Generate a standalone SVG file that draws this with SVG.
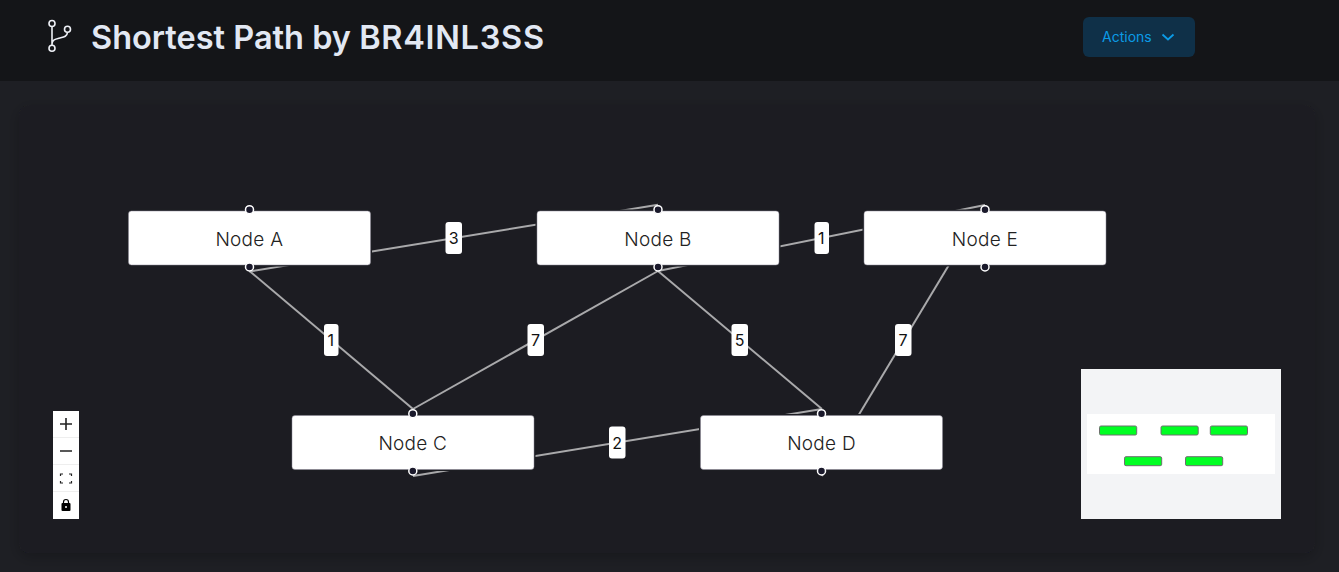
<svg xmlns="http://www.w3.org/2000/svg" width="1339" height="572" viewBox="0 0 1339 572">
<style>
text{font-family:Inter,"Noto Sans","Liberation Sans",sans-serif}
.edge{stroke:#a9a9ab;stroke-width:2;fill:none}
.halo{fill:#1d1e23}
.node{fill:#fff;stroke:#8a8494;stroke-width:.5}
.nlabel{font-size:19px;font-weight:300;fill:#222;text-anchor:middle;letter-spacing:.25px}
.elabel{font-size:16px;fill:#111;text-anchor:middle}
.ebg{fill:#fff}
.handle{fill:#1a192b;stroke:#fff;stroke-width:1.500}
.mini{fill:#00ff22;stroke:#6e6e6e;stroke-width:1}
.ctl{fill:none;stroke:#222;stroke-width:1.600}
.sep{stroke:#eee;stroke-width:1}
</style>
<defs>
<filter id="sh" x="-5%" y="-10%" width="110%" height="120%"><feDropShadow dx="0" dy="4" stdDeviation="7" flood-color="#000" flood-opacity=".22"/></filter>
</defs>
<rect width="1339" height="572" fill="#1e1f24"/>
<rect x="0" y="0" width="1339" height="81" fill="#141518"/>
<rect x="19" y="105" width="1296" height="448" rx="10" fill="#1e1f24" filter="url(#sh)"/>
<g id="header">
<g fill="none" stroke="#eef0f6" stroke-width="1.600">
<circle cx="52" cy="23.500" r="3"/><circle cx="52" cy="48.300" r="3"/><circle cx="67.500" cy="29.300" r="3"/>
<path d="M52 26.500V45.300M52 44C52 39.500 56 39 60 38C64 37 67 36.500 67.500 32.300"/>
</g>
<text x="91" y="49" font-size="32.500" font-weight="600" fill="#e2e8f3">Shortest Path by <tspan letter-spacing=".7">BR4INL3SS</tspan></text>
</g>
<g id="actions">
<rect x="1083" y="17" width="112" height="40" rx="6" fill="#0f3048"/>
<text x="1102" y="42" font-size="14" fill="#0b9be6">Actions</text>
<path d="M1162.500 34.500L1168 39.500L1173.500 34.500" fill="none" stroke="#0b9be6" stroke-width="1.800"/>
</g>
<g id="connectors">
<path class="edge" d="M249.500 271.500L658 204.700"/>
<path class="edge" d="M658 271L985 205"/>
<path class="edge" d="M413 476L822 409"/>
<path class="edge" d="M249.500 271L413 409"/>
<path class="edge" d="M658 271L413 409"/>
<path class="edge" d="M658 271L822 409"/>
<path class="edge" d="M985 205L822 476"/>
</g>
<g id="node-a">
<rect class="halo" x="127" y="209.500" width="245" height="57" rx="4"/>
<rect class="node" x="128.500" y="211" width="242" height="54" rx="3"/>
<text class="nlabel" x="249.300" y="245.500">Node A</text>
<circle class="handle" cx="249.500" cy="209.700" r="4"/><circle class="handle" cx="249.500" cy="267" r="4"/>
</g>
<g id="node-b">
<rect class="halo" x="535.500" y="209.500" width="245" height="57" rx="4"/>
<rect class="node" x="537" y="211" width="242" height="54" rx="3"/>
<text class="nlabel" x="658" y="245.500">Node B</text>
<circle class="handle" cx="658" cy="209.700" r="4"/><circle class="handle" cx="658" cy="267" r="4"/>
</g>
<g id="node-e">
<rect class="halo" x="862.500" y="209.500" width="245" height="57" rx="4"/>
<rect class="node" x="864" y="211" width="242" height="54" rx="3"/>
<text class="nlabel" x="985" y="245.500">Node E</text>
<circle class="handle" cx="985" cy="209.700" r="4"/><circle class="handle" cx="985" cy="267" r="4"/>
</g>
<g id="node-c">
<rect class="halo" x="290.500" y="414" width="245" height="57" rx="4"/>
<rect class="node" x="292" y="415.500" width="242" height="54" rx="3"/>
<text class="nlabel" x="412.800" y="450">Node C</text>
<circle class="handle" cx="412.800" cy="413.700" r="4"/><circle class="handle" cx="412.800" cy="471" r="4"/>
</g>
<g id="node-d">
<rect class="halo" x="699" y="414" width="245" height="57" rx="4"/>
<rect class="node" x="700.500" y="415.500" width="242" height="54" rx="3"/>
<text class="nlabel" x="821.500" y="450">Node D</text>
<circle class="handle" cx="821.500" cy="413.700" r="4"/><circle class="handle" cx="821.500" cy="471" r="4"/>
</g>
<g id="edge-labels">
<rect class="ebg" x="445.500" y="222" width="16.500" height="32" rx="3"/><text class="elabel" x="453.700" y="244">3</text>
<rect class="ebg" x="814.500" y="222" width="14.500" height="32" rx="3"/><text class="elabel" x="821.200" y="244">1</text>
<rect class="ebg" x="324" y="324" width="14.500" height="32" rx="3"/><text class="elabel" x="330.700" y="346">1</text>
<rect class="ebg" x="527.500" y="324" width="16.500" height="32" rx="3"/><text class="elabel" x="535.500" y="346">7</text>
<rect class="ebg" x="731.500" y="324" width="16.500" height="32" rx="3"/><text class="elabel" x="739.700" y="346">5</text>
<rect class="ebg" x="895" y="324" width="16.500" height="32" rx="3"/><text class="elabel" x="903" y="346">7</text>
<rect class="ebg" x="609" y="426.500" width="16.500" height="32" rx="3"/><text class="elabel" x="617.200" y="448.500">2</text>
</g>
<g id="controls">
<rect x="53" y="411" width="26" height="108" fill="#fff"/>
<path class="sep" d="M53 437.500H79M53 464.500H79M53 491.500H79"/>
<path class="ctl" d="M66 418V430M60 424H72M60 451H72"/>
<path d="M60.500 476V474H63M69 474H71.500V476M71.500 481V483H69M63 483H60.500V481" fill="none" stroke="#222" stroke-width="1.200"/>
<rect x="61.500" y="503" width="9" height="8" rx="1" fill="#000"/>
<path d="M63.500 503.500V502a2.500 2.500 0 0 1 5 0V503.500" fill="none" stroke="#000" stroke-width="1.200"/>
<circle cx="66" cy="507" r="1" fill="#fff"/>
</g>
<g id="minimap">
<rect x="1081" y="369" width="200" height="150" fill="#f3f4f6"/>
<rect x="1087" y="414" width="188" height="60" fill="#fff"/>
<rect class="mini" x="1099.500" y="426" width="37.200" height="9" rx="1.500"/>
<rect class="mini" x="1161" y="426" width="37.200" height="9" rx="1.500"/>
<rect class="mini" x="1210.300" y="426" width="37.200" height="9" rx="1.500"/>
<rect class="mini" x="1124.500" y="456.700" width="37.200" height="9" rx="1.500"/>
<rect class="mini" x="1185.500" y="456.700" width="37.200" height="9" rx="1.500"/>
</g>
</svg>
